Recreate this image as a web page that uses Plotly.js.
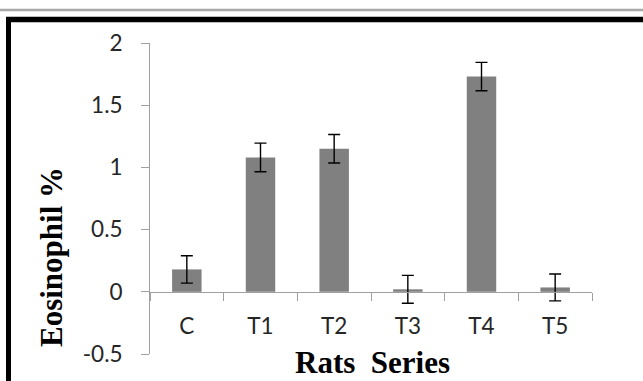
<!DOCTYPE html>
<html>
<head>
<meta charset="utf-8">
<script src="https://cdn.plot.ly/plotly-3.0.1.min.js"></script>
<style>
html,body{margin:0;padding:0;background:#fff;}
#chart{width:643px;height:381px;}
</style>
</head>
<body>
<div id="chart"></div>
<script>
var categories = ["C", "T1", "T2", "T3", "T4", "T5"];
var eosinophil = [0.18, 1.08, 1.15, 0.02, 1.73, 0.035];
var errors = [0.11, 0.115, 0.115, 0.112, 0.114, 0.108];
var yTickVals = [-0.5, 0, 0.5, 1, 1.5, 2];
var yTickText = ["-0.5", "0", "0.5", "1", "1.5", "2"];
var xTitle = "Rats  Series";
var yTitle = "Eosinophil %";

var W = 643, H = 381;
var mL = 150, mR = 51, mT = 43, mB = 27;
var pw = W - mL - mR, ph = H - mT - mB;
function px(x){ return (x - mL) / pw; }
function py(y){ return (H - mB - y) / ph; }

var trace = {
  type: "bar",
  x: categories,
  y: eosinophil,
  width: 0.4,
  marker: {color: "#808080", line: {width: 0}},
  error_y: {type: "data", array: errors, visible: true, color: "#000000", thickness: 1.4, width: 6},
  hoverinfo: "none"
};

var tickFont = {family: "Lato, 'Open Sans', sans-serif", size: 22.5, color: "#262626"};
var titleFont = {family: "'Liberation Serif', 'Times New Roman', serif", size: 31, color: "#000000"};

var layout = {
  width: W, height: H,
  margin: {l: mL, r: mR, t: mT, b: mB, pad: 0},
  paper_bgcolor: "#ffffff",
  plot_bgcolor: "#ffffff",
  showlegend: false,
  xaxis: {
    type: "category",
    range: [-0.5, 5.5],
    anchor: "free",
    position: (0 - (-0.5)) / 2.5,
    showline: true, linecolor: "#a0a0a0", linewidth: 1,
    ticks: "outside", tickson: "boundaries", ticklen: 8, tickcolor: "#a0a0a0", tickwidth: 1,
    ticklabelstandoff: 14,
    showgrid: false, zeroline: false,
    tickfont: tickFont,
    fixedrange: true
  },
  yaxis: {
    range: [-0.5, 2],
    tickvals: yTickVals, ticktext: yTickText,
    showline: true, linecolor: "#a0a0a0", linewidth: 1,
    ticks: "outside", ticklen: 8, tickcolor: "#a0a0a0", tickwidth: 1,
    ticklabelstandoff: 14,
    showgrid: false, zeroline: false,
    tickfont: tickFont,
    fixedrange: true
  },
  annotations: [
    {text: "<b>" + yTitle + "</b>", xref: "paper", yref: "paper", x: px(51.5), y: py(257.5),
     xanchor: "center", yanchor: "middle", textangle: -90, showarrow: false, font: titleFont},
    {text: "<b>" + xTitle + "</b>", xref: "paper", yref: "paper", x: px(372.5), y: py(381),
     xanchor: "center", yanchor: "bottom", showarrow: false, font: titleFont, borderpad: 0}
  ],
  shapes: [
    {type: "line", xref: "paper", yref: "paper", x0: px(0), x1: px(643), y0: py(10), y1: py(10),
     line: {color: "#a8a8a8", width: 2.5}},
    {type: "line", xref: "paper", yref: "paper", x0: px(6), x1: px(643), y0: py(19.5), y1: py(19.5),
     line: {color: "#000000", width: 5.5}},
    {type: "line", xref: "paper", yref: "paper", x0: px(8.5), x1: px(8.5), y0: py(17), y1: py(381),
     line: {color: "#000000", width: 5}}
  ]
};

Plotly.newPlot("chart", [trace], layout, {displayModeBar: false, staticPlot: true});
</script>
</body>
</html>
